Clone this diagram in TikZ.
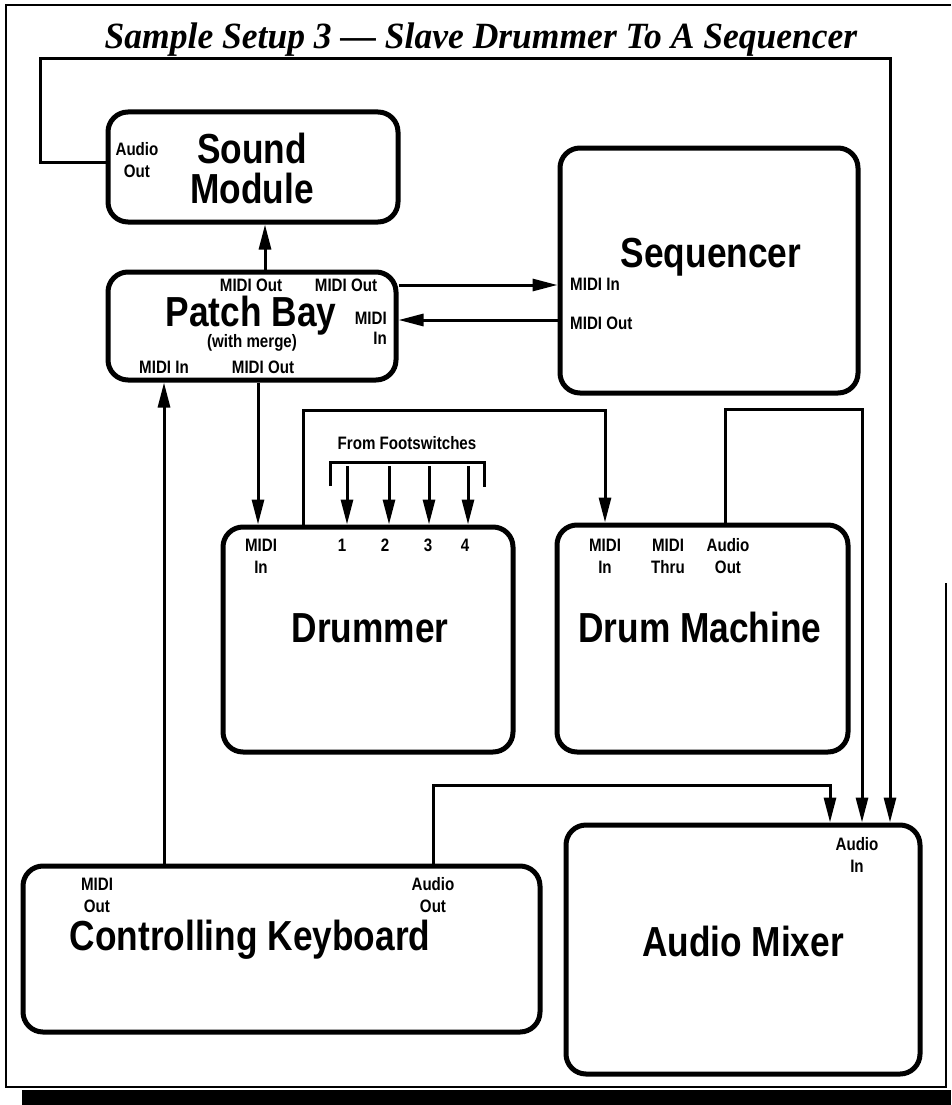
\documentclass[tikz,border=0pt]{standalone}
\usepackage{fontspec}
\setmainfont{Liberation Sans}
\newfontfamily\ttlfont[FakeStretch=0.96]{Liberation Serif}
\newfontfamily\cndfont[FakeStretch=0.84]{Liberation Sans}
\usetikzlibrary{arrows.meta}
\tikzset{
  box/.style={draw, line width=5pt, rounded corners=20pt, inner sep=0pt},
  conn/.style={line width=3pt},
  arr/.style={conn, -{Triangle[length=25pt,width=12pt]}},
  big/.style={font=\cndfont\bfseries\fontsize{42}{40}\selectfont, align=center, inner sep=0pt},
  lab/.style={font=\cndfont\bfseries\fontsize{18}{22}\selectfont, align=center, inner sep=0pt},
  labl/.style={lab, anchor=west},
  labr/.style={font=\cndfont\bfseries\fontsize{18}{20}\selectfont, align=right, inner sep=0pt, anchor=east},
}
\begin{document}
\begin{tikzpicture}[x=1pt,y=-1pt]
\useasboundingbox (0,0) rectangle (951,1105);
% frame
\draw[line width=1.6pt] (951,5) -- (6,5) -- (6,1087) -- (946,1087) -- (946,583);
\fill (22,1090) rectangle (951,1105);
% title
\node[font=\ttlfont\bfseries\itshape\fontsize{37}{40}\selectfont, anchor=base, inner sep=0pt] (title) at (481,49) {Sample Setup 3 — Slave Drummer To A Sequencer};
% boxes
\node[box, minimum width=290pt, minimum height=110pt] (sm) at (253,167) {};
\node[box, minimum width=288pt, minimum height=108pt] (pb) at (252,326) {};
\node[box, minimum width=298pt, minimum height=245pt] (sq) at (709,270.5) {};
\node[box, minimum width=290pt, minimum height=225pt] (dr) at (368,639.5) {};
\node[box, minimum width=291pt, minimum height=227pt] (dm) at (702.5,638.5) {};
\node[box, minimum width=517pt, minimum height=166pt] (kb) at (281.5,949) {};
\node[box, minimum width=354pt, minimum height=249pt] (mx) at (743,949.5) {};
% box titles
\node[big] (smt) at (252,168) {Sound\\Module};
\node[big] (pbt) at (251,316) {Patch Bay};
\node[lab] (pbw) at (252,343) {(with merge)};
\node[big] (sqt) at (711,257) {Sequencer};
\node[big] (drt) at (370,628) {Drummer};
\node[big] (dmt) at (700,627) {Drum Machine};
\node[big] (kbt) at (250,940) {Controlling Keyboard};
\node[big] (mxt) at (743,941) {Audio Mixer};
% port labels
\node[lab] (smao) at (137,160) {Audio\\Out};
\node[lab] (pbo1) at (251,285) {MIDI Out};
\node[lab] (pbo2) at (346,285) {MIDI Out};
\node[labr] (pbi2) at (387,328) {MIDI\\In};
\node[lab] (pbi1) at (164,367) {MIDI In};
\node[lab] (pbo3) at (263,367) {MIDI Out};
\node[labl] (sqi) at (570,284) {MIDI In};
\node[labl] (sqo) at (570,323) {MIDI Out};
\node[lab] (drmi) at (261,556) {MIDI\\In};
\node[lab] (d1) at (342,545) {1};
\node[lab] (d2) at (385,545) {2};
\node[lab] (d3) at (428,545) {3};
\node[lab] (d4) at (465,545) {4};
\node[lab] (ffs) at (407,443) {From Footswitches};
\node[lab] (dmmi) at (605,556) {MIDI\\In};
\node[lab] (dmmt) at (668,556) {MIDI\\Thru};
\node[lab] (dmao) at (728,556) {Audio\\Out};
\node[lab] (kbmo) at (97,895) {MIDI\\Out};
\node[lab] (kbao) at (433,895) {Audio\\Out};
\node[lab] (mxai) at (857,855) {Audio\\In};
% footswitch bracket
\coordinate (bl) at (330,486);
\coordinate (br) at (484,487);
\draw[conn] (bl) -- (330,462) -- (484,462) -- (br);
\coordinate (f1) at (347,466);
\coordinate (f2) at (389,466);
\coordinate (f3) at (429,466);
\coordinate (f4) at (468,466);
\foreach \f in {f1,f2,f3,f4} \draw[arr] (\f) -- (\f |- dr.north);
% connectors
\draw[arr] (sm.west |- 0,162) -- (40,162) -- (40,59) -- (890,59) -- (890,0 |- mx.north);
\draw[arr] (265,0 |- pb.north) -- (265,0 |- sm.south);
\draw[arr] (pb.east |- 0,285) -- (sq.west |- 0,285);
\draw[arr] (sq.west |- 0,320) -- (pb.east |- 0,320);
\draw[arr] (258,0 |- pb.south) -- (258,0 |- dr.north);
\draw[arr] (164,0 |- kb.north) -- (164,0 |- pb.south);
\draw[arr] (303,0 |- dr.north) -- (303,410) -- (605,410) -- (605,0 |- dm.north);
\draw[arr] (725,0 |- dm.north) -- (725,409) -- (862,409) -- (862,0 |- mx.north);
\draw[arr] (433,0 |- kb.north) -- (433,785) -- (830,785) -- (830,0 |- mx.north);
\end{tikzpicture}
\end{document}
